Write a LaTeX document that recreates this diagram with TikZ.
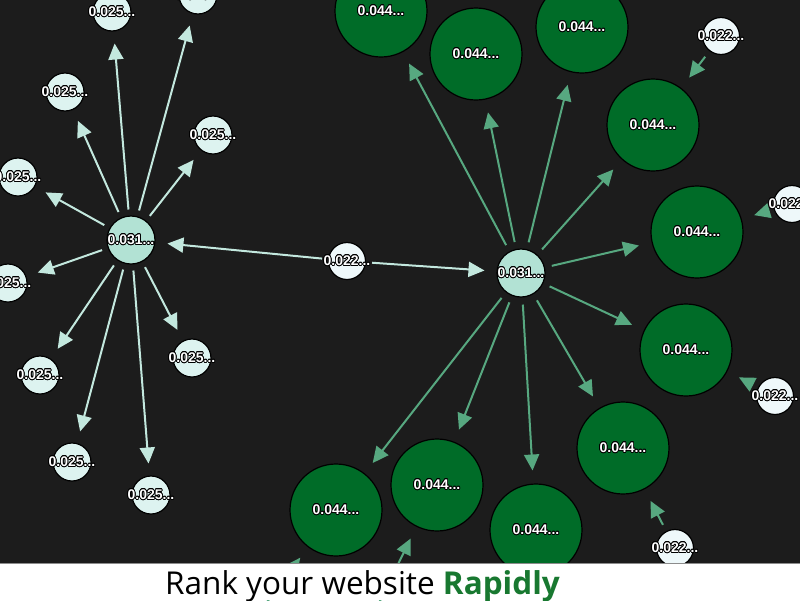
\documentclass[tikz,border=0pt]{standalone}
\usepackage{fontspec}
\usepackage[copies]{contour}
\usetikzlibrary{
  arrows.meta,
  positioning
}
\newfontfamily\labelfont{Liberation Sans}
\newfontfamily\bannerfont{Open Sans}
\definecolor{canvas}{RGB}{28,28,28}
\definecolor{hubfill}{RGB}{178,226,212}
\definecolor{leaffill}{RGB}{221,243,240}
\definecolor{seedfill}{RGB}{238,248,250}
\definecolor{pagegreen}{RGB}{0,108,40}
\definecolor{mintedge}{RGB}{195,232,222}
\definecolor{greenedge}{RGB}{87,168,128}
\definecolor{rapidgreen}{RGB}{24,120,48}
\contourlength{0.8pt}
\newcommand{\val}[1]{\makebox[0pt]{\contour{black}{#1}}}

\begin{document}
\begin{tikzpicture}[
  x=1pt, y=-1pt,
  every node/.style={font=\labelfont\bfseries\fontsize{14}{14}\selectfont, text=white},
  hub/.style={circle, draw=black, line width=1.2pt, fill=hubfill, minimum size=48pt, inner sep=0pt},
  leaf/.style={circle, draw=black, line width=1.2pt, fill=leaffill, minimum size=38pt, inner sep=0pt},
  seed/.style={circle, draw=black, line width=1.2pt, fill=seedfill, minimum size=37pt, inner sep=0pt},
  page/.style={circle, draw=black, line width=1.2pt, fill=pagegreen, minimum size=92pt, inner sep=0pt},
  mintlink/.style={draw=mintedge, line width=2pt, -{Triangle[length=16pt,width=15pt]}, shorten >=12pt, shorten <=6pt},
  greenlink/.style={draw=greenedge, line width=2pt, -{Triangle[length=16pt,width=15pt]}, shorten >=13pt, shorten <=7pt},
]

\useasboundingbox (0,0) rectangle (800,600);
\fill[canvas] (0,0) rectangle (800,600);

% left cluster
\node[hub] (hubL) at (131,240) {\val{0.031...}};
\node[leaf] (a1) at (112,12) {\val{0.025...}};
\node[leaf] (a2) at (198,-5) {\val{0.025...}};
\node[leaf] (a3) at (65,92) {\val{0.025...}};
\node[leaf] (a4) at (213,135) {\val{0.025...}};
\node[leaf] (a5) at (18,177) {\val{0.025...}};
\node[leaf] (a6) at (8,283) {\val{0.025...}};
\node[leaf] (a7) at (40,375) {\val{0.025...}};
\node[leaf] (a8) at (192,358) {\val{0.025...}};
\node[leaf] (a9) at (72,462) {\val{0.025...}};
\node[leaf] (a10) at (151,495) {\val{0.025...}};

% bridge and right cluster
\node[seed] (mid) at (347,261) {\val{0.022...}};
\node[hub] (hubR) at (521,273) {\val{0.031...}};
\node[page] (g1) at (381,11) {\val{0.044...}};
\node[page] (g2) at (476,54) {\val{0.044...}};
\node[page] (g3) at (582,27) {\val{0.044...}};
\node[page] (g4) at (653,125) {\val{0.044...}};
\node[page] (g5) at (697,232) {\val{0.044...}};
\node[page] (g6) at (686,350) {\val{0.044...}};
\node[page] (g7) at (623,448) {\val{0.044...}};
\node[page] (g8) at (536,530) {\val{0.044...}};
\node[page] (g9) at (437,485) {\val{0.044...}};
\node[page] (g10) at (336,510) {\val{0.044...}};
\node[seed] (s1) at (721,36) {\val{0.022...}};
\node[seed] (s2) at (792,204) {\val{0.022...}};
\node[seed] (s3) at (775,396) {\val{0.022...}};
\node[seed] (s4) at (675,548) {\val{0.022...}};
\coordinate (below9) at (375,611);
\coordinate (below10) at (264,606);

\draw[mintlink] (hubL) -- (a1);
\draw[mintlink] (hubL) -- (a2);
\draw[mintlink] (hubL) -- (a3);
\draw[mintlink] (hubL) -- (a4);
\draw[mintlink] (hubL) -- (a5);
\draw[mintlink] (hubL) -- (a6);
\draw[mintlink] (hubL) -- (a7);
\draw[mintlink] (hubL) -- (a8);
\draw[mintlink] (hubL) -- (a9);
\draw[mintlink] (hubL) -- (a10);
\draw[mintlink] (mid) -- (hubL);
\draw[mintlink] (mid) -- (hubR);

\draw[greenlink] (hubR) -- (g1);
\draw[greenlink] (hubR) -- (g2);
\draw[greenlink] (hubR) -- (g3);
\draw[greenlink] (hubR) -- (g4);
\draw[greenlink] (hubR) -- (g5);
\draw[greenlink] (hubR) -- (g6);
\draw[greenlink] (hubR) -- (g7);
\draw[greenlink] (hubR) -- (g8);
\draw[greenlink] (hubR) -- (g9);
\draw[greenlink] (hubR) -- (g10);
\draw[greenlink] (s1) -- (g4);
\draw[greenlink] (s2) -- (g5);
\draw[greenlink] (s3) -- (g6);
\draw[greenlink] (s4) -- (g7);
\draw[greenlink, shorten <=0pt] (below9) -- (g9);
\draw[greenlink, shorten <=0pt] (below10) -- (g10);

% banner
\fill[white] (0,563) rectangle (800,600);
\draw[black!45, line width=1pt] (0,563) -- (800,563);
\node[anchor=base west, inner sep=0pt, text=black, font=\bannerfont\fontsize{31.5}{31.5}\selectfont] (banner) at (165,594) {Rank your website {\bfseries\color{rapidgreen}Rapidly}};

\end{tikzpicture}
\end{document}
